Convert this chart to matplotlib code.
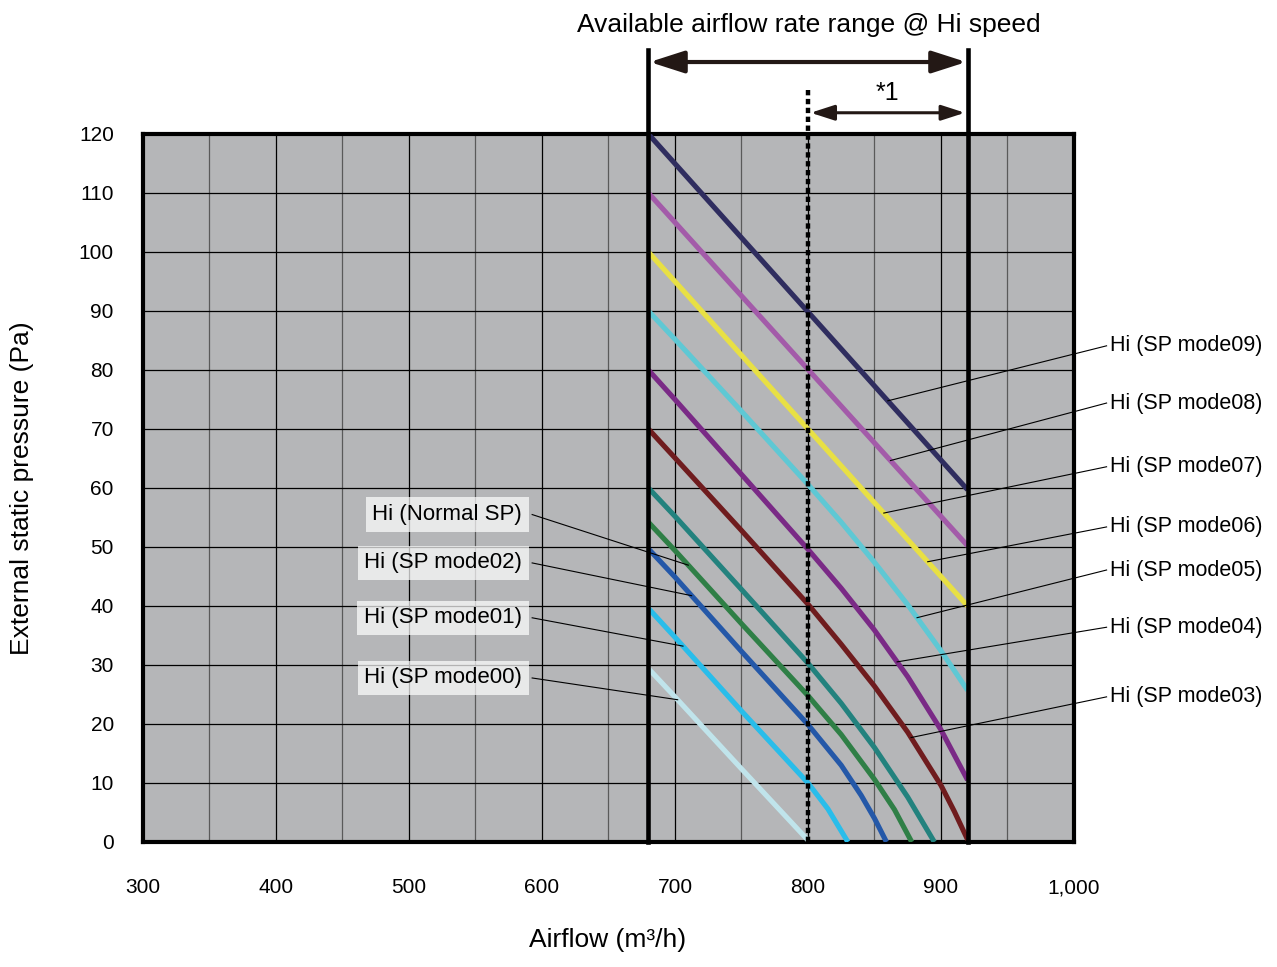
import numpy as np
import matplotlib.pyplot as plt
from matplotlib.patches import FancyArrowPatch

plt.rcParams['font.family'] = ['Liberation Sans', 'DejaVu Sans']

# curves: airflow (m3/h) and external static pressure (Pa)
q_mode09 = [680, 920]
p_mode09 = [120, 59.7]
q_mode08 = [680, 920]
p_mode08 = [110, 50.2]
q_mode07 = [680, 920]
p_mode07 = [100, 40.0]
q_mode06 = [680, 700, 750, 800, 825, 850, 875, 900, 920]
p_mode06 = [90, 85.2, 73.0, 60.6, 54.2, 47.4, 40.2, 32.4, 25.7]
q_mode05 = [680, 700, 750, 800, 825, 850, 875, 900, 920]
p_mode05 = [80, 75.0, 62.3, 49.6, 43.0, 35.9, 28.0, 19.0, 10.5]
q_mode04 = [680, 700, 750, 800, 825, 850, 875, 900, 910, 920]
p_mode04 = [70, 65.1, 52.8, 40.3, 33.5, 26.4, 18.6, 9.6, 5.2, 0.4]
q_mode03 = [680, 700, 750, 800, 825, 850, 875, 895]
p_mode03 = [60, 55.2, 42.8, 30.3, 23.5, 16.0, 7.6, 0]
q_mode02 = [680, 700, 750, 800, 825, 850, 865, 878]
p_mode02 = [54.2, 49.4, 37.0, 24.8, 18.2, 10.6, 5.5, 0]
q_normal = [680, 700, 750, 800, 825, 840, 850, 859]
p_normal = [49.7, 44.9, 32.3, 19.9, 13.0, 7.9, 4.0, 0]
q_mode01 = [680, 700, 750, 800, 815, 830]
p_mode01 = [39.6, 34.7, 22.2, 10.0, 5.6, 0]
q_mode00 = [680, 700, 750, 800]
p_mode00 = [29.4, 24.6, 12.4, 0.3]

colors = {
    'mode09': '#2f2d5f', 'mode08': '#a35ba9', 'mode07': '#e8e044',
    'mode06': '#5fc8d4', 'mode05': '#7a2a86', 'mode04': '#6f1c1e',
    'mode03': '#23827e', 'mode02': '#2f7f46', 'normal': '#2458a8',
    'mode01': '#29bdea', 'mode00': '#c0e4eb',
}
curves = {
    'mode09': (q_mode09, p_mode09), 'mode08': (q_mode08, p_mode08),
    'mode07': (q_mode07, p_mode07), 'mode06': (q_mode06, p_mode06),
    'mode05': (q_mode05, p_mode05), 'mode04': (q_mode04, p_mode04),
    'mode03': (q_mode03, p_mode03), 'mode02': (q_mode02, p_mode02),
    'normal': (q_normal, p_normal), 'mode01': (q_mode01, p_mode01),
    'mode00': (q_mode00, p_mode00),
}

# label text, curve it points at, airflow of the pointed spot
right_labels = ['Hi (SP mode09)', 'Hi (SP mode08)', 'Hi (SP mode07)', 'Hi (SP mode06)',
                'Hi (SP mode05)', 'Hi (SP mode04)', 'Hi (SP mode03)']
right_target = ['mode09', 'mode08', 'mode07', 'mode07', 'mode06', 'mode05', 'mode04']
right_q = [860, 862, 857, 890, 882, 867, 877.5]
left_labels = ['Hi (Normal SP)', 'Hi (SP mode02)', 'Hi (SP mode01)', 'Hi (SP mode00)']
left_target = ['mode02', 'normal', 'mode01', 'mode00']
left_q = [710, 712.5, 706, 702]

x_ticks = np.arange(300, 1001, 100)
y_ticks = np.arange(0, 121, 10)

fig = plt.figure(figsize=(12.77, 9.67), dpi=100)
ax = fig.add_axes([0.11198, 0.12927, 0.72905, 0.73216])
ax.set_facecolor('#b5b6b8')
ax.set_xlim(300, 1000)
ax.set_ylim(0, 120)
ax.set_xticks(x_ticks)
ax.set_xticklabels([f'{v:,}' for v in x_ticks])
ax.set_xticks(np.arange(350, 1000, 100), minor=True)
ax.set_yticks(y_ticks)
ax.set_axisbelow(True)
ax.grid(which='major', color='black', lw=0.9)
ax.grid(which='minor', axis='x', color='#5a5a5a', lw=0.9)
ax.tick_params(which='both', length=0)
ax.tick_params(axis='x', pad=26, labelsize=15)
ax.tick_params(axis='y', pad=21, labelsize=15)
for s in ax.spines.values():
    s.set_linewidth(3)

for name, (q, p) in curves.items():
    ax.plot(q, p, color=colors[name], lw=3.7, solid_capstyle='butt',
            solid_joinstyle='round', zorder=3)

# range lines
ax.plot([680, 680], [0, 134.2], color='black', lw=3.3, clip_on=False, zorder=4)
ax.plot([920, 920], [0, 134.2], color='black', lw=3.3, clip_on=False, zorder=4)
ax.plot([800, 800], [0, 127.5], color='black', lw=3.2, ls=(0, (1.2, 0.8)),
        clip_on=False, zorder=4)

arr1 = FancyArrowPatch((681, 132.2), (919, 132.2),
                       arrowstyle='<|-|>,head_length=1.4,head_width=0.45',
                       mutation_scale=15, lw=3, color='#231815',
                       shrinkA=0, shrinkB=0, clip_on=False)
arr2 = FancyArrowPatch((802, 123.6), (918, 123.6),
                       arrowstyle='<|-|>,head_length=1.3,head_width=0.42',
                       mutation_scale=11, lw=2.2, color='#231815',
                       shrinkA=0, shrinkB=0, clip_on=False)
ax.add_patch(arr1)
ax.add_patch(arr2)
ax.text(860, 127.0, '*1', fontsize=18, ha='center', va='center')
fig.text(0.633, 0.974, 'Available airflow rate range @ Hi speed', fontsize=19,
         ha='center', va='center')

# leader lines + labels
right_y = [84.1, 74.4, 63.6, 53.4, 46.1, 36.4, 24.6]
for lab, tgt, q, ly in zip(right_labels, right_target, right_q, right_y):
    cq, cp = curves[tgt]
    p = np.interp(q, cq, cp)
    ax.plot([q, 1024.5], [p, ly], color='black', lw=0.8, clip_on=False, zorder=5)
    ax.text(1027, ly, lab, fontsize=15.5, ha='left', va='center', clip_on=False)

left_y = [55.5, 47.3, 38.0, 27.8]
for lab, tgt, q, ly in zip(left_labels, left_target, left_q, left_y):
    cq, cp = curves[tgt]
    p = np.interp(q, cq, cp)
    ax.plot([592.6, q], [ly, p], color='black', lw=0.8, zorder=5)
    ax.text(585, ly, lab, fontsize=16, ha='right', va='center', zorder=6,
            bbox=dict(boxstyle='square,pad=0.3', fc='white', ec='none', alpha=0.7))

fig.text(0.476, 0.016, 'Airflow (m³/h)', fontsize=19, ha='center', va='bottom')
fig.text(0.017, 0.495, 'External static pressure (Pa)', fontsize=19, rotation=90,
         ha='center', va='center')

plt.savefig('out.png', dpi=100)
